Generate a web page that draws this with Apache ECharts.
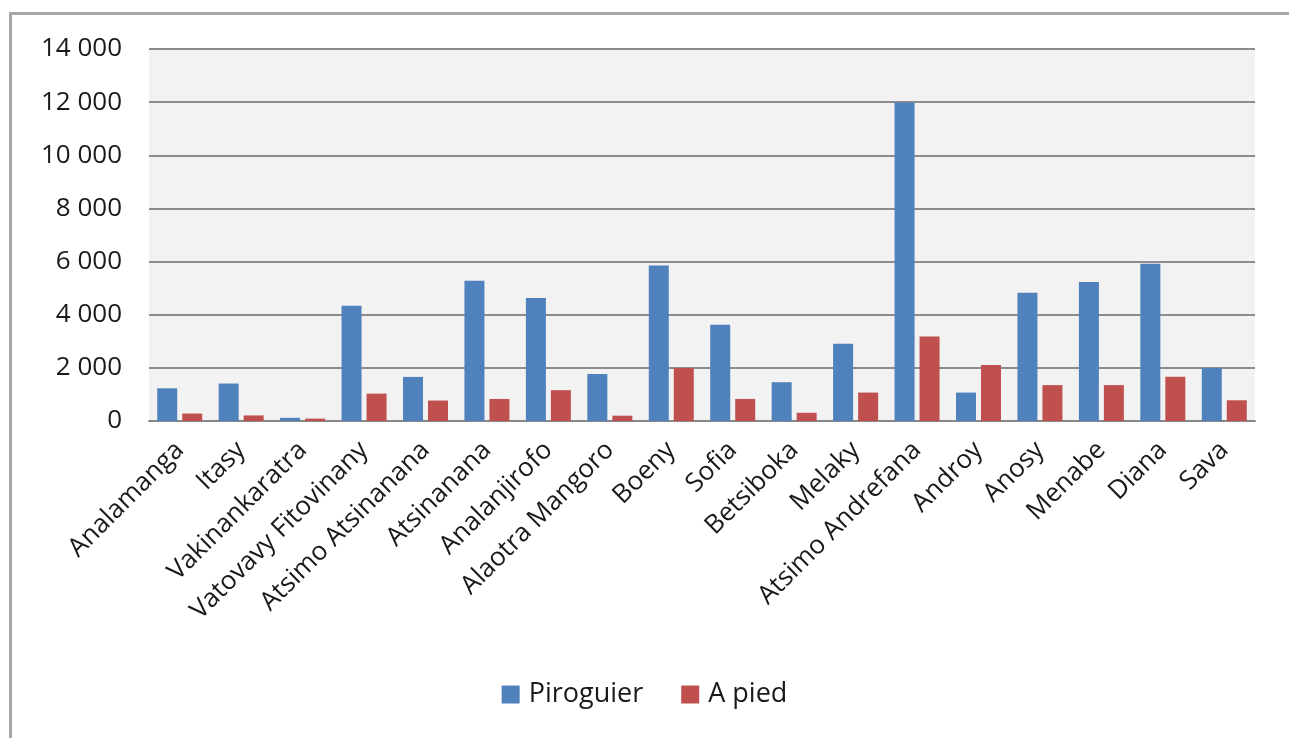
<!DOCTYPE html>
<html>
<head>
<meta charset="utf-8">
<script src="https://cdn.jsdelivr.net/npm/echarts@6/dist/echarts.min.js"></script>
<style>
html,body{margin:0;padding:0;background:#fff;}
#c{width:1289px;height:738px;}
</style>
</head>
<body>
<div id="c"></div>
<script>
const categories = ["Analamanga","Itasy","Vakinankaratra","Vatovavy Fitovinany","Atsimo Atsinanana","Atsinanana","Analanjirofo","Alaotra Mangoro","Boeny","Sofia","Betsiboka","Melaky","Atsimo Andrefana","Androy","Anosy","Menabe","Diana","Sava"];
const piroguier = [1230,1410,120,4340,1660,5280,4630,1770,5850,3620,1460,2910,11990,1070,4830,5230,5920,1990];
const aPied = [280,210,90,1030,770,830,1160,200,1990,830,310,1070,3180,2110,1350,1350,1670,780];
const seriesNames = ["Piroguier","A pied"];
const yTicks = {min:0, max:14000, interval:2000};

const font = "'Open Sans', 'Liberation Sans', sans-serif";
const chart = echarts.init(document.getElementById('c'));
chart.setOption({
  animation:false,
  backgroundColor:'#fff',
  graphic:[{type:'rect',shape:{x:10.5,y:13.5,width:1300,height:800},style:{fill:'none',stroke:'#a6a6a6',lineWidth:3},silent:true,z:-1}],
  grid:{left:149,right:34,top:49,bottom:317,backgroundColor:'#f2f2f2',show:true,borderWidth:0},
  legend:{top:676,left:'center',itemWidth:18,itemHeight:18,itemGap:38,icon:'rect',
    textStyle:{fontFamily:font,fontSize:27,color:'#1a1a1a',padding:[0,0,0,4]},data:seriesNames},
  xAxis:{type:'category',data:categories,
    axisLine:{lineStyle:{color:'#888',width:2}},axisTick:{show:false},
    axisLabel:{rotate:45,interval:0,fontFamily:font,fontSize:26,color:'#1a1a1a',margin:25}},
  yAxis:{type:'value',min:yTicks.min,max:yTicks.max,interval:yTicks.interval,
    axisLine:{show:false},axisTick:{show:false},
    splitLine:{lineStyle:{color:'#8c8c8c',width:2}},
    axisLabel:{fontFamily:font,fontSize:26,color:'#1a1a1a',margin:27,
      formatter:v=>v.toString().replace(/\B(?=(\d{3})+(?!\d))/g,' ')}},
  series:[
    {name:seriesNames[0],type:'bar',data:piroguier,barWidth:20,barGap:'25%',itemStyle:{color:'#4f81bd'}},
    {name:seriesNames[1],type:'bar',data:aPied,barWidth:20,itemStyle:{color:'#c0504d'}}
  ]
});
</script>
</body>
</html>
